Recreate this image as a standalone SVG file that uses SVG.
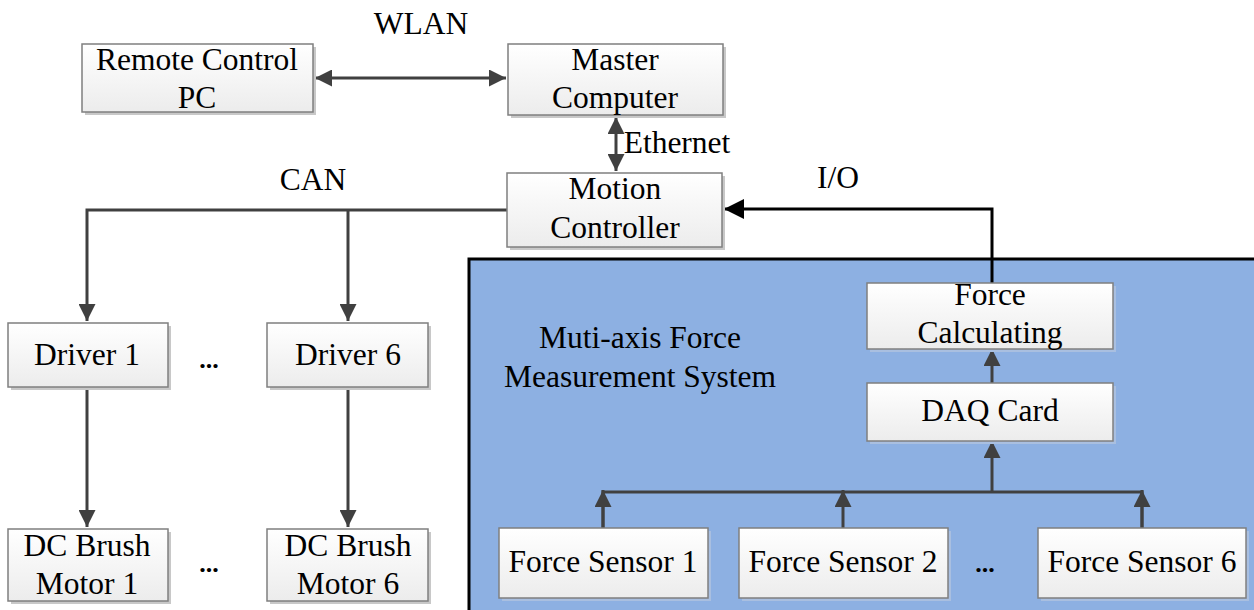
<svg xmlns="http://www.w3.org/2000/svg" width="1254" height="610" viewBox="0 0 1254 610">
<defs>
<linearGradient id="g" x1="0" y1="0" x2="0" y2="1"><stop offset="0" stop-color="#ffffff"/><stop offset="1" stop-color="#ececec"/></linearGradient>
<marker id="a" viewBox="0 0 10 10" refX="10" refY="5" markerWidth="17" markerHeight="17" markerUnits="userSpaceOnUse" orient="auto-start-reverse"><path d="M0,0 L10,5 L0,10 z" fill="#404040"/></marker>
<marker id="b" viewBox="0 0 10 10" refX="10" refY="5" markerWidth="20" markerHeight="20" markerUnits="userSpaceOnUse" orient="auto"><path d="M0,0 L10,5 L0,10 z" fill="#000"/></marker>
</defs>
<style>
.box{fill:url(#g);stroke:#7f7f7f;stroke-width:1.5}
.sh{fill:#c8c8c8}
.shb{fill:#a9bfe0}
text{font-family:"Liberation Serif","Times New Roman",serif;font-size:31.5px;fill:#000;text-anchor:middle}
.dots{font-weight:bold;font-size:26px}
.ln{fill:none;stroke:#404040;stroke-width:3}
</style>
<rect x="469" y="259" width="790" height="360" fill="#8db0e2" stroke="#000" stroke-width="3"/>
<text x="640" y="348">Muti-axis Force</text>
<text x="640" y="387">Measurement System</text>
<g id="connectors">
<path class="ln" d="M315,78 H506" marker-start="url(#a)" marker-end="url(#a)"/>
<path class="ln" d="M616,117 V171" marker-start="url(#a)" marker-end="url(#a)"/>
<path class="ln" d="M507,210 H87 V321" marker-end="url(#a)"/>
<path class="ln" d="M348,210 V321" marker-end="url(#a)"/>
<path class="ln" d="M87,387 V527" marker-end="url(#a)"/>
<path class="ln" d="M348,387 V527" marker-end="url(#a)"/>
<path fill="none" stroke="#000" stroke-width="3" d="M992,283 V209 H724" marker-end="url(#b)"/>
<path class="ln" d="M992,383 V349" marker-end="url(#a)"/>
<path class="ln" d="M992,492 V441" marker-end="url(#a)"/>
<path class="ln" d="M603,528 V492 H1142 V528"/>
<path class="ln" d="M603,528 V490" marker-end="url(#a)"/>
<path class="ln" d="M843,528 V490" marker-end="url(#a)"/>
<path class="ln" d="M1142,528 V490" marker-end="url(#a)"/>
</g>
<text x="421" y="34">WLAN</text>
<text x="677" y="153">Ethernet</text>
<text x="313" y="190">CAN</text>
<text x="838" y="188">I/O</text>
<g id="remote"><rect class="sh" x="85" y="47" width="231" height="68"/><rect class="box" x="82" y="44" width="231" height="68"/><text x="197" y="70">Remote Control</text><text x="197" y="108">PC</text></g>
<g id="master"><rect class="sh" x="511" y="47" width="215" height="71"/><rect class="box" x="508" y="44" width="215" height="71"/><text x="615" y="70">Master</text><text x="615" y="108">Computer</text></g>
<g id="motion"><rect class="sh" x="510" y="176" width="215" height="74"/><rect class="box" x="507" y="173" width="215" height="74"/><text x="615" y="199">Motion</text><text x="615" y="238">Controller</text></g>
<g id="driver1"><rect class="sh" x="11" y="326" width="160" height="64"/><rect class="box" x="8" y="323" width="160" height="64"/><text x="87" y="365">Driver 1</text></g>
<g id="driver6"><rect class="sh" x="270" y="326" width="161" height="64"/><rect class="box" x="267" y="323" width="161" height="64"/><text x="348" y="365">Driver 6</text></g>
<text class="dots" x="209" y="368">...</text>
<g id="motor1"><rect class="sh" x="11" y="532" width="160" height="72"/><rect class="box" x="8" y="529" width="160" height="72"/><text x="87" y="556">DC Brush</text><text x="87" y="594">Motor 1</text></g>
<g id="motor6"><rect class="sh" x="270" y="532" width="161" height="72"/><rect class="box" x="267" y="529" width="161" height="72"/><text x="348" y="556">DC Brush</text><text x="348" y="594">Motor 6</text></g>
<text class="dots" x="209" y="572">...</text>
<g id="forcecalc"><rect class="shb" x="870" y="286" width="246" height="66"/><rect class="box" x="867" y="283" width="246" height="66"/><text x="990" y="305">Force</text><text x="990" y="343">Calculating</text></g>
<g id="daq"><rect class="shb" x="870" y="386" width="246" height="58"/><rect class="box" x="867" y="383" width="246" height="58"/><text x="990" y="421">DAQ Card</text></g>
<g id="sensor1"><rect class="shb" x="502" y="531" width="209" height="70"/><rect class="box" x="499" y="528" width="209" height="70"/><text x="603" y="572">Force Sensor 1</text></g>
<g id="sensor2"><rect class="shb" x="742" y="531" width="209" height="70"/><rect class="box" x="739" y="528" width="209" height="70"/><text x="843" y="572">Force Sensor 2</text></g>
<g id="sensor6"><rect class="shb" x="1041" y="531" width="208" height="70"/><rect class="box" x="1038" y="528" width="208" height="70"/><text x="1142" y="572">Force Sensor 6</text></g>
<text class="dots" x="985" y="572">...</text>
</svg>
